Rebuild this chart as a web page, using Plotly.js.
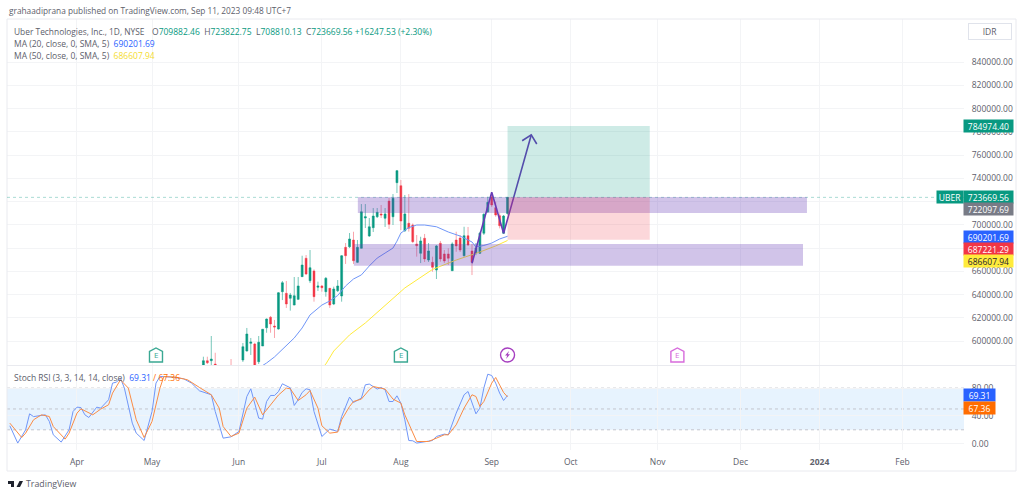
<!DOCTYPE html>
<html>
<head>
<meta charset="utf-8">
<script src="https://cdn.plot.ly/plotly-3.0.1.min.js"></script>
<style>
html,body{margin:0;padding:0;background:#fff;}
#plot{width:1024px;height:497px;}
</style>
</head>
<body>
<div id="plot"></div>
<script>
// x axis is the trading session number, 0 = Apr 3 2023
const monthTicks=[0,19,41,62,82,105,125,147,168,188,209];
const monthLabels=['Apr','May','Jun','Jul','Aug','Sep','Oct','Nov','Dec','<b>2024</b>','Feb'];

const priceTicks=[600000,620000,640000,660000,680000,700000,720000,740000,760000,780000,800000,820000,840000];
// 680000 and 720000 sit fully behind the price boxes, so they have no text
const priceTickLabels=['600000.00','620000.00','640000.00','660000.00','','700000.00','','740000.00','760000.00','780000.00','800000.00','820000.00','840000.00'];
const stochTicks=[0,40,80];

// Candles, sessions 32 to 109
const firstSession=32;
const open=[579600,583300,583300,580400,578000,572000,574000,578000,570000,575000,583900,591600,598200,597600,582400,595900,611600,620600,613100,610500,642600,641200,636900,631100,636000,655500,671300,652000,660400,646400,647500,642600,645500,632000,643400,638900,680700,681200,687000,667800,679900,705900,690500,697600,707000,709400,705700,720500,707000,736300,733700,695000,701400,699900,683600,675600,688500,669800,667800,661200,684200,675000,675000,660600,687000,688700,673500,690700,677600,675800,675600,692800,711300,724200,714800,707900,692800,709882];
const high=[586700,586700,604500,590100,579000,576000,578000,584700,577000,578000,598500,611400,602800,598700,604500,610500,619500,621700,618300,642300,651800,651800,641500,655200,655200,673500,674100,678400,661800,651200,648300,655200,645800,646900,652600,674100,684400,693000,694100,687000,717900,717900,705900,714500,714500,717100,714500,723100,726500,747200,738600,725700,726500,701200,691300,689800,692200,684400,672700,682700,686200,678400,679900,685000,694100,691300,698400,698200,683600,684400,694100,710000,724200,727400,719900,710000,708500,723823];
const low=[578700,580400,579600,577000,570000,568000,570000,568000,566000,571000,582200,591200,588200,575000,580400,595900,607300,607300,602800,610000,635400,628600,626300,631000,635400,655200,656900,650000,634000,643200,642600,638300,628600,631100,642300,634000,666400,680100,666400,667200,679700,697300,689600,693900,705900,705900,698200,696500,699900,727400,695600,693900,694200,684400,672700,667200,668100,668100,659800,653500,668400,667200,665500,660400,676900,676700,672700,681900,656900,674000,675000,691300,710200,715400,707000,697000,692200,708810];
const close=[583300,581500,584700,578700,572000,574000,576000,570000,575000,577000,595300,606200,599300,577000,599100,610300,619100,614800,612200,641700,650300,632000,639700,639100,647500,665500,657800,663200,638300,647500,646000,654100,631100,644900,647500,673500,673500,687900,669200,680700,711300,707000,698400,707600,710800,708500,709400,700500,722900,746600,703300,709400,697100,685600,682100,686200,670700,677600,663500,681900,670700,669000,671300,683600,681900,678400,690700,682700,667800,680100,692800,709100,719400,717100,708500,699300,707600,723670];

// Moving averages, read at every few sessions
const ma20Days=[46,48,50,52,55,57,59,62,64,66,68,70,72,74,76,78,80,81,82,84,86,88,91,94,97,100,101,103,105,107,109];
const ma20=[577000,581300,586500,593300,602800,611400,622600,631100,634600,639300,647500,653500,657000,664700,671500,675800,680100,686000,693000,697700,699900,699900,698400,693900,690400,685300,681000,682300,684400,687900,690202];
const ma50Days=[62,63,65,69,73,77,83,90,96,102,106,109];
const ma50=[577000,580400,591600,605400,615700,627700,645800,661700,669800,676700,681900,686608];

// Stoch RSI
const stochKDays=[-17,-15,-13,-12,-11,-8,-7,-6,-4,-2,-1,0,1,2,3,5,6,8,9,10,11,12,14,15,17,19,20,21,24,27,29,31,34,35,37,39,41,43,44,46,47,48,49,50,51,52,54,55,56,57,58,59,60,62,64,66,67,69,70,72,73,74,76,77,78,79,80,81,82,83,84,85,86,89,90,91,93,94,96,98,99,101,102,103,104,105,106,107,108,109];
const stochK=[25.8,0.9,20,43,39,41.6,32,12.8,2.3,20,46.3,52.6,52,41.6,37.7,52.6,51.2,63.2,87.2,88.6,94.4,80,29.6,15.2,4.6,46.3,87.2,96.7,95.8,93.4,87.2,76.1,70.4,46.3,8,9.9,17.6,67.9,79,36.8,35.4,60.7,69.4,69.4,75,86.2,80.4,55,63.2,73.7,79,77.6,46.3,10.4,21,17.6,39.1,67,59.3,65.6,84.7,85.8,78.6,80.9,77.6,60.7,60.7,68.9,58.4,34.4,4.6,4.2,0.9,3.2,4.6,10.4,13.8,12.8,44,70.4,75.1,43,51.2,80,100,98.1,87.2,72.8,62.2,69.31];
const stochDDays=[-17,-16,-14,-13,-11,-9,-7,-6,-3,-2,0,1,4,6,8,9,11,13,15,17,19,21,22,25,28,31,34,36,37,39,41,43,45,47,49,51,53,54,56,58,59,61,62,64,66,67,69,70,72,74,75,78,80,82,83,85,86,89,91,93,94,96,98,100,101,102,103,105,106,107,108,109];
const stochD=[29.6,22.4,8.9,15.2,34.4,41.6,39.1,24.7,6.6,15.2,44,50.2,41.6,49.8,56,72.8,91.9,80,34.4,8.9,32,80,96.7,95.8,91.9,80.9,70.4,51.2,24.7,10.4,15.2,51.2,67,41.6,56,70,80,79,62.2,70.4,76.5,51.2,25.8,15.2,16.7,34.4,53.5,60.7,64.2,77.6,82.3,78.6,64.2,58.4,41.6,17.6,3.2,3.2,8,12.8,12.8,27.2,51.2,70.4,67.9,53.5,60.7,87.2,95.3,84.7,73.7,67.36];

// Drawings on the chart
const zoneDays=[[71.1,184.8],[70.1,183.8]];
const zonePrices=[[710200,724000],[664900,683600]];
const positionDays=[109,145];
const targetPrice=784974.40;
const entryPrice=723669.56;
const stopPrice=687221.29;
const arrowDays=[100,105,108,115];
const arrowPrices=[667000,728000,692800,777300];
const arrowHeadDays=[112.7,115,116.4];
const arrowHeadPrices=[772300,777300,769500];

// Events row
const earningsDays=[20,82];
const futureEarningsDays=[152];
const dividendDays=[109];
const eventPrice=588200;

const GREEN='#089981', RED='#f23645', BLUE='#2962ff', ORANGE='#ff6d00', YELLOW='#ffeb3b', GRIDC='#f3f4f6';
const FONT='"Open Sans", sans-serif';
const TXT='#5d606b';

// page pixel to paper position, for the header text and the frame
function px(x){ return (x-7)/957; }
function py(y){ return (450-y)/431; }

function label(x,y,text,size,color){
	return {xref:'paper',yref:'paper',x:px(x-1.5),y:py(y),xanchor:'left',yanchor:'middle',showarrow:false,
		text:text,font:{family:FONT,size:size||8.5,color:color||TXT}};
}
function priceBox(x,w,y,text,bg,color){
	return {xref:'paper',yref:'paper',x:px(x-1.5),y:py(y),xanchor:'left',yanchor:'middle',showarrow:false,
		text:text,width:w,height:12,borderpad:0,align:'center',bgcolor:bg,font:{family:FONT,size:8.5,color:color||'#fff'}};
}
function g(s){ return '<span style="color:'+GREEN+'">'+s+'</span>'; }

const sessions=open.map((v,i)=>firstSession+i);

const traces=[
	{type:'candlestick',x:sessions,open:open,high:high,low:low,close:close,xaxis:'x2',yaxis:'y',
		whiskerwidth:0,
		increasing:{line:{color:'rgba(8,153,129,0.55)',width:1},fillcolor:GREEN},
		decreasing:{line:{color:'rgba(242,54,69,0.45)',width:1},fillcolor:RED},hoverinfo:'skip'},
	{type:'scatter',mode:'lines',x:ma20Days,y:ma20,xaxis:'x2',yaxis:'y',line:{color:'#7096f8',width:1}},
	{type:'scatter',mode:'lines',x:ma50Days,y:ma50,xaxis:'x2',yaxis:'y',line:{color:YELLOW,width:1}},
	{type:'scatter',mode:'lines',x:arrowDays,y:arrowPrices,xaxis:'x2',yaxis:'y',line:{color:'#673ab7',width:1.6}},
	{type:'scatter',mode:'lines',x:arrowHeadDays,y:arrowHeadPrices,xaxis:'x2',yaxis:'y',line:{color:'#673ab7',width:1.6}},
	{type:'scatter',mode:'lines',x:stochKDays,y:stochK,xaxis:'x',yaxis:'y2',line:{color:'#7096f8',width:1}},
	{type:'scatter',mode:'lines',x:stochDDays,y:stochD,xaxis:'x',yaxis:'y2',line:{color:'#fb8c45',width:1}}
];

const shapes=[];
// frame and pane separator
shapes.push({type:'rect',xref:'paper',yref:'paper',x0:px(7),x1:px(1016),y0:py(19),y1:py(471),line:{color:'#e9eaef',width:1}});
shapes.push({type:'line',xref:'paper',yref:'paper',x0:px(7),x1:px(1016),y0:py(365.5),y1:py(365.5),line:{color:'#e9eaef',width:1}});
// stoch band
shapes.push({type:'rect',xref:'paper',yref:'y2',x0:0,x1:1,y0:20,y1:80,fillcolor:'rgba(33,150,243,0.11)',line:{width:0},layer:'below'});
[20,50,80].forEach(function(v){
	shapes.push({type:'line',xref:'paper',yref:'y2',x0:0,x1:1,y0:v,y1:v,line:{color:'#c3c5cd',width:1,dash:'3px,3px'},layer:'below'});
});
// last price line
shapes.push({type:'line',xref:'paper',yref:'y',x0:0,x1:1,y0:entryPrice,y1:entryPrice,line:{color:'rgba(8,153,129,0.35)',width:1,dash:'dot'}});
// zones
zoneDays.forEach(function(d,i){
	shapes.push({type:'rect',xref:'x2',yref:'y',x0:d[0],x1:d[1],y0:zonePrices[i][0],y1:zonePrices[i][1],fillcolor:'rgba(103,58,183,0.3)',line:{width:0}});
});
// long position
shapes.push({type:'rect',xref:'x2',yref:'y',x0:positionDays[0],x1:positionDays[1],y0:entryPrice,y1:targetPrice,fillcolor:'rgba(8,153,129,0.2)',line:{width:0}});
shapes.push({type:'rect',xref:'x2',yref:'y',x0:positionDays[0],x1:positionDays[1],y0:stopPrice,y1:entryPrice,fillcolor:'rgba(242,54,69,0.2)',line:{width:0}});

// event icons, sized in pixels
const HOUSE='M-6.5,-7 L6.5,-7 L6.5,3.5 L0,7 L-6.5,3.5 Z';
function house(day,color){
	shapes.push({type:'path',xref:'x2',yref:'y',xsizemode:'pixel',ysizemode:'pixel',xanchor:day,yanchor:eventPrice,path:HOUSE,
		line:{color:color,width:1.4},fillcolor:'#fff'});
}
earningsDays.forEach(function(d){ house(d,'#3aa893'); });
futureEarningsDays.forEach(function(d){ house(d,'#d76bdc'); });
dividendDays.forEach(function(d){
	shapes.push({type:'circle',xref:'x2',yref:'y',xsizemode:'pixel',ysizemode:'pixel',xanchor:d,yanchor:eventPrice,x0:-7,x1:7,y0:-7,y1:7,
		line:{color:'#a63fc0',width:1.4},fillcolor:'#fff'});
	shapes.push({type:'path',xref:'x2',yref:'y',xsizemode:'pixel',ysizemode:'pixel',xanchor:d,yanchor:eventPrice,
		path:'M1.5,4 L-2.5,-0.5 L-0.3,-0.5 L-1.5,-4 L2.5,0.8 L0.3,0.8 Z',line:{width:0},fillcolor:'#a63fc0'});
});
// TradingView logo
const LOGO='M0,3 H6 V-3 H3 V0 H0 Z M8.2,3 A1.5,1.5 0 1 0 8.2,0 A1.5,1.5 0 1 0 8.2,3 Z M11.5,3 H15 L12,-3 H8.5 Z';
shapes.push({type:'path',xref:'paper',yref:'paper',xsizemode:'pixel',ysizemode:'pixel',xanchor:px(8),yanchor:py(484),path:LOGO,line:{width:0},fillcolor:'#1e222d'});

const annotations=[
	label(8,11,'grahaadiprana published on TradingView.com, Sep 11, 2023 09:48 UTC+7',8.3),
	label(13,31,'Uber Technologies, Inc., 1D, NYSE',8.4),
	label(151,31,'O'+g('709882.46')+'  H'+g('723822.75')+'  L'+g('708810.13')+'  C'+g('723669.56')+' '+g('+16247.53 (+2.30%)'),8.5),
	label(13,43.7,'MA (20, close, 0, SMA, 5)  <span style="color:'+BLUE+'">690201.69</span>',8.5),
	label(13,55.7,'MA (50, close, 0, SMA, 5)  <span style="color:#f5dc30">686607.94</span>',8.5),
	label(13,377,'Stoch RSI (3, 3, 14, 14, close)  <span style="color:'+BLUE+'">69.31</span> <span style="color:'+ORANGE+'">/ 67.36</span>',8.5),
	label(25,484,'TradingView',8.8,'#5d606b'),
	{xref:'paper',yref:'paper',x:px(968),y:py(31.5),xanchor:'left',yanchor:'middle',showarrow:false,text:'IDR',width:42,height:15,
		bordercolor:'#e0e3eb',borderwidth:1,borderpad:0,font:{family:FONT,size:8.5,color:TXT}},
	priceBox(964,49,126,'784974.40',GREEN),
	priceBox(937,26,197.3,'UBER',GREEN),
	priceBox(964,49,197.3,'723669.56',GREEN),
	priceBox(964,49,209.3,'722097.69','#787b86'),
	priceBox(964,49,236.7,'690201.69',BLUE),
	priceBox(964,49,248.7,'687221.29',RED),
	priceBox(964,49,260.7,'686607.94',YELLOW,'#1e222d'),
	priceBox(964,31,395.3,'69.31',BLUE),
	priceBox(964,31,408.3,'67.36',ORANGE)
];
earningsDays.forEach(function(d){
	annotations.push({xref:'x2',yref:'y',x:d,y:eventPrice,showarrow:false,text:'E',font:{family:FONT,size:8,color:'#3aa893'}});
});
futureEarningsDays.forEach(function(d){
	annotations.push({xref:'x2',yref:'y',x:d,y:eventPrice,showarrow:false,text:'E',font:{family:FONT,size:8,color:'#d76bdc'}});
});

const xRange=[-17.72,224.56];
const axisBase={range:xRange,showgrid:true,gridcolor:GRIDC,gridwidth:1,zeroline:false,showline:false,
	tickmode:'array',tickvals:monthTicks,ticktext:monthLabels,rangeslider:{visible:false}};

const layout={
	width:1024,height:497,
	margin:{l:7,r:60,t:19,b:47,pad:0,autoexpand:false},
	paper_bgcolor:'#fff',plot_bgcolor:'rgba(0,0,0,0)',
	showlegend:false,hovermode:false,
	separators:'.,',
	font:{family:FONT,size:8.5,color:TXT},
	xaxis:Object.assign({},axisBase,{anchor:'y2',ticks:'outside',ticklen:4,tickcolor:'rgba(0,0,0,0)',tickfont:{family:FONT,size:8.5,color:TXT}}),
	xaxis2:Object.assign({},axisBase,{anchor:'y',showticklabels:false,ticks:''}),
	yaxis:{domain:[0.1972,1],range:[579570,876960],anchor:'x2',side:'right',tickmode:'array',tickvals:priceTicks,ticktext:priceTickLabels,
		showgrid:true,gridcolor:GRIDC,zeroline:false,showline:false,ticks:'outside',ticklen:5,tickcolor:'rgba(0,0,0,0)',tickfont:{family:FONT,size:8.5,color:TXT}},
	yaxis2:{domain:[0,0.1949],range:[-9.05,111.8],anchor:'x',side:'right',tickmode:'array',tickvals:stochTicks,tickformat:'.2f',
		showgrid:true,gridcolor:GRIDC,zeroline:false,showline:false,ticks:'outside',ticklen:5,tickcolor:'rgba(0,0,0,0)',tickfont:{family:FONT,size:8.5,color:TXT}},
	shapes:shapes,
	annotations:annotations
};

Plotly.newPlot('plot',traces,layout,{displayModeBar:false,responsive:false});
</script>
</body>
</html>
